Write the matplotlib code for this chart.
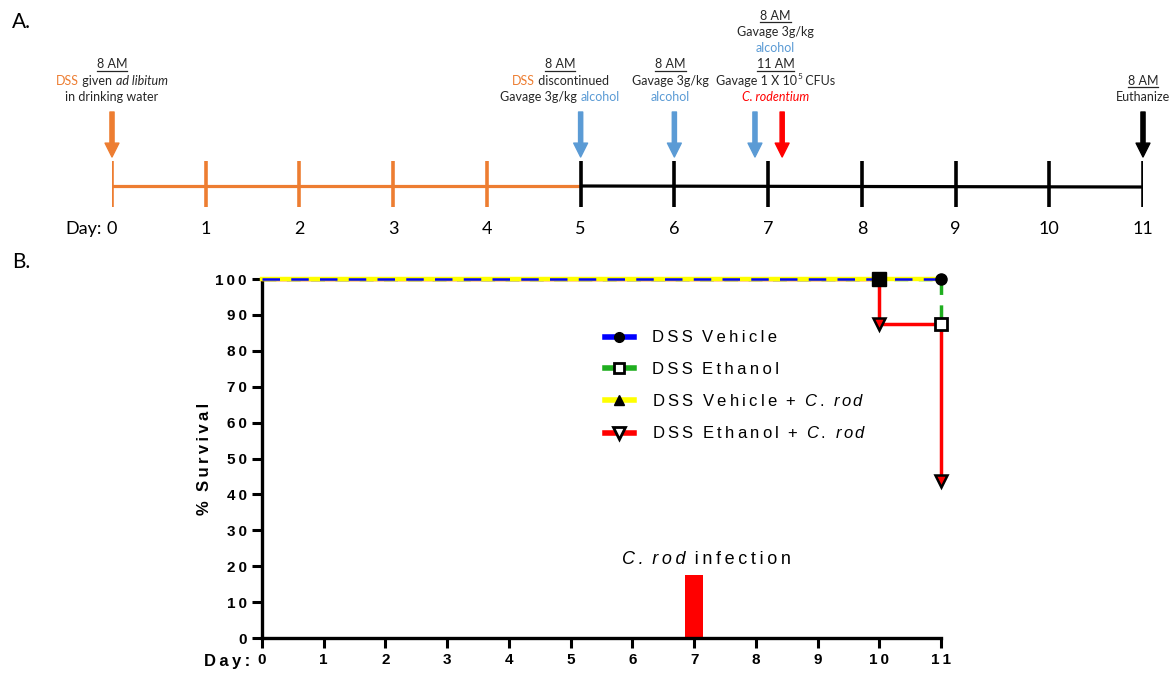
import matplotlib
matplotlib.use('Agg')
import matplotlib.pyplot as plt
from matplotlib import transforms
from matplotlib.lines import Line2D

plt.rcParams['mathtext.fontset'] = 'custom'
plt.rcParams['mathtext.rm'] = 'Liberation Sans'
plt.rcParams['mathtext.it'] = 'Liberation Sans:italic'
plt.rcParams['mathtext.bf'] = 'Liberation Sans:bold'

# ---- data ----
days = list(range(12))
dss_last_day = 5

ORANGE = '#ED7D31'
BLUE_A = '#5B9BD5'
DARK = '#262626'

# arrows in the timeline: day, colour, small shift so two arrows on one day do not overlap
arrow_days = [0, 5, 6, 7, 7, 11]
arrow_colors = [ORANGE, BLUE_A, BLUE_A, BLUE_A, 'red', 'black']
arrow_shift = [0, 0, 0, -0.14, 0.15, 0]

# annotations: one list of lines per day, each line a list of (text, colour, style)
note_days = [0, 5, 6, 7, 11]
note_shift = [0, -0.22, -0.04, 0.08, 0]
note_lines = [
    [[('8 AM', DARK, 'u')],
     [('DSS', ORANGE, 'n'), (' given ', DARK, 'n'), ('ad libitum', DARK, 'i')],
     [('in drinking water', DARK, 'n')]],
    [[('8 AM', DARK, 'u')],
     [('DSS', ORANGE, 'n'), (' discontinued', DARK, 'n')],
     [('Gavage 3g/kg ', DARK, 'n'), ('alcohol', BLUE_A, 'n')]],
    [[('8 AM', DARK, 'u')],
     [('Gavage 3g/kg', DARK, 'n')],
     [('alcohol', BLUE_A, 'n')]],
    [[('8 AM', DARK, 'u')],
     [('Gavage 3g/kg', DARK, 'n')],
     [('alcohol', BLUE_A, 'n')],
     [('11 AM', DARK, 'u')],
     [('Gavage 1 X 10', DARK, 'n'), ('5', DARK, 'sup'), (' CFUs', DARK, 'n')],
     [('C. rodentium', 'red', 'i')]],
    [[('8 AM', DARK, 'u')],
     [('Euthanize', DARK, 'n')]],
]

# survival curves (Kaplan-Meier steps)
vehicle_days = [0, 11]
vehicle_surv = [100, 100]
ethanol_days = [0, 11]
ethanol_surv = [100, 87.5]
vehicle_crod_days = [0, 11]
vehicle_crod_surv = [100, 100]
ethanol_crod_days = [0, 10, 11]
ethanol_crod_surv = [100, 87.5, 43.75]
censor_day = 10
censor_surv = 100

infection_day = 7
infection_height = 17.5

fig = plt.figure(figsize=(11.71, 6.75), dpi=100)
renderer = fig.canvas.get_renderer()


def sp(s):
    return '\u2009'.join(s)


def text_width(ax, s, size, family, italic):
    t = ax.text(0, 0, '|' + s + '|', fontsize=size, family=family,
                style='italic' if italic else 'normal')
    w1 = t.get_window_extent(renderer).width
    t.set_text('||')
    w2 = t.get_window_extent(renderer).width
    t.remove()
    return w1 - w2


def draw_line(ax, x, y, segs, size, family):
    widths = []
    for s, c, st in segs:
        sz = size * 0.65 if st == 'sup' else size
        widths.append(text_width(ax, s, sz, family, st == 'i'))
    off = -sum(widths) / 2
    for (s, c, st), w in zip(segs, widths):
        sz = size * 0.65 if st == 'sup' else size
        rise = size * 0.45 * fig.dpi / 72 if st == 'sup' else 0
        tr = transforms.offset_copy(ax.transData, fig=fig, x=off, y=rise, units='dots')
        ax.text(x, y, s, transform=tr, fontsize=sz, family=family, color=c,
                style='italic' if st == 'i' else 'normal', ha='left', va='baseline')
        if st == 'u':
            xd, yd = ax.transData.transform((x, y))
            fig.add_artist(Line2D([xd + off, xd + off + w], [yd - 2.5, yd - 2.5],
                                  transform=transforms.IdentityTransform(),
                                  color=c, lw=0.9))
        off += w


# ---------------- panel A: timeline ----------------
ax_a = fig.add_axes([112 / 1171, 1 - 245 / 675, (1143 - 112) / 1171, 245 / 675])
ax_a.set_xlim(0, 11)
ax_a.set_ylim(245, 0)
ax_a.axis('off')

ax_a.plot([0, dss_last_day], [186, 186], color=ORANGE, lw=2.3, solid_capstyle='butt')
ax_a.plot([dss_last_day, days[-1]], [186, 187], color='black', lw=2.3, solid_capstyle='butt')
for d in days:
    col = ORANGE if d < dss_last_day else 'black'
    ax_a.plot([d, d], [161, 207], color=col, lw=2.6, solid_capstyle='butt')
    ax_a.text(d, 229, str(d), ha='center', va='center', fontsize=13, family='Lato', color='black')
ax_a.text(0, 229, 'Day:', ha='right', va='center', fontsize=13, family='Lato', color='black',
          transform=transforms.offset_copy(ax_a.transData, fig=fig, x=-10, y=0, units='dots'))

for d, c, s in zip(arrow_days, arrow_colors, arrow_shift):
    ax_a.annotate('', xy=(d + s, 157), xytext=(d + s, 112),
                  arrowprops=dict(arrowstyle='simple,head_width=1.0,head_length=1.0,tail_width=0.3',
                                  color=c, shrinkA=0, shrinkB=0, mutation_scale=10))

for d, sh, lines in zip(note_days, note_shift, note_lines):
    n = len(lines)
    for i, segs in enumerate(lines):
        y = 101 - (n - 1 - i) * 16.3
        draw_line(ax_a, d + sh, y, segs, 9, 'Lato')

fig.text(12 / 1171, 1 - 22 / 675, 'A.', fontsize=15, family='Lato', va='center')
fig.text(12 / 1171, 1 - 262 / 675, 'B.', fontsize=15, family='Lato', va='center')

# ---------------- panel B: survival ----------------
FB = ['Liberation Sans', 'DejaVu Sans']
ax_b = fig.add_axes([262 / 1171, 1 - 638 / 675, 679 / 1171, 359 / 675])
ax_b.set_xlim(0, 11)
ax_b.set_ylim(0, 100)
for side in ['top', 'right']:
    ax_b.spines[side].set_visible(False)
for side in ['left', 'bottom']:
    ax_b.spines[side].set_linewidth(2.4)

ax_b.bar(infection_day, infection_height, width=0.28, color='red', zorder=2)
draw_line(ax_b, infection_day + 0.2, 20.5,
          [(sp('C.') + '\u2009 ' + sp('rod'), 'black', 'i'), ('\u2009 ' + sp('infection'), 'black', 'n')],
          13, FB)

ax_b.step(ethanol_crod_days, ethanol_crod_surv, where='post', color='red', lw=2.5, zorder=3, clip_on=False)
ax_b.step(ethanol_days, ethanol_surv, where='post', color='#1FAE1F', lw=2.5, ls=(0, (4, 3)), zorder=4,
          clip_on=False)
ax_b.step(vehicle_crod_days, vehicle_crod_surv, where='post', color='#FFFF00', lw=3.2, zorder=5, clip_on=False)
ax_b.step(vehicle_days, vehicle_surv, where='post', color='#0000FF', lw=1.8, ls=(0, (7, 4.5)), zorder=6,
          clip_on=False)

ax_b.plot(censor_day, censor_surv, 's', color='black', ms=10, zorder=7, clip_on=False)
ax_b.plot(vehicle_days[-1], vehicle_surv[-1], 'o', color='black', ms=8, zorder=7, clip_on=False)
ax_b.plot(ethanol_days[-1], ethanol_surv[-1], 's', mfc='white', mec='black', mew=2, ms=8, zorder=7,
          clip_on=False)
ax_b.plot(ethanol_crod_days[1:], ethanol_crod_surv[1:], 'v', mfc='red', mec='black', mew=1.8, ms=9,
          zorder=7, clip_on=False)

ax_b.set_xticks(days)
ax_b.set_xticklabels([sp(str(d)) for d in days], fontweight='bold', family=FB)
ax_b.set_yticks(range(0, 101, 10))
ax_b.set_yticklabels([sp(str(v)) for v in range(0, 101, 10)], fontweight='bold', family=FB)
ax_b.tick_params(direction='out', length=7, width=2.2, labelsize=11, pad=4)
ax_b.set_ylabel(sp('%') + '  ' + sp('Survival'), fontsize=12, fontweight='bold', family=FB, labelpad=2)
ax_b.text(-0.017, -0.045, sp('Day:'), transform=ax_b.transAxes, ha='right', va='top',
          fontsize=12, fontweight='bold', family=FB)

crod = r'$\mathit{C\,.\,\,\,r\,o\,d}$'
handles = [
    Line2D([], [], color='#0000FF', lw=4, marker='o', mfc='black', mec='black', ms=7),
    Line2D([], [], color='#1FAE1F', lw=4, marker='s', mfc='white', mec='black', mew=2, ms=7),
    Line2D([], [], color='#FFFF00', lw=4, marker='^', mfc='black', mec='black', ms=7),
    Line2D([], [], color='red', lw=4, marker='v', mfc='white', mec='black', mew=2, ms=8),
]
labels = [sp('DSS') + '  ' + sp('Vehicle'),
          sp('DSS') + '  ' + sp('Ethanol'),
          sp('DSS') + '  ' + sp('Vehicle') + '  +  ' + crod,
          sp('DSS') + '  ' + sp('Ethanol') + '  +  ' + crod]
ax_b.legend(handles, labels, loc='upper left', bbox_to_anchor=(0.505, 0.857), frameon=False,
            prop={'family': FB, 'size': 12}, handlelength=1.75, handletextpad=1.1,
            labelspacing=0.98, borderpad=0, borderaxespad=0)

fig.savefig('out.png', dpi=100)
